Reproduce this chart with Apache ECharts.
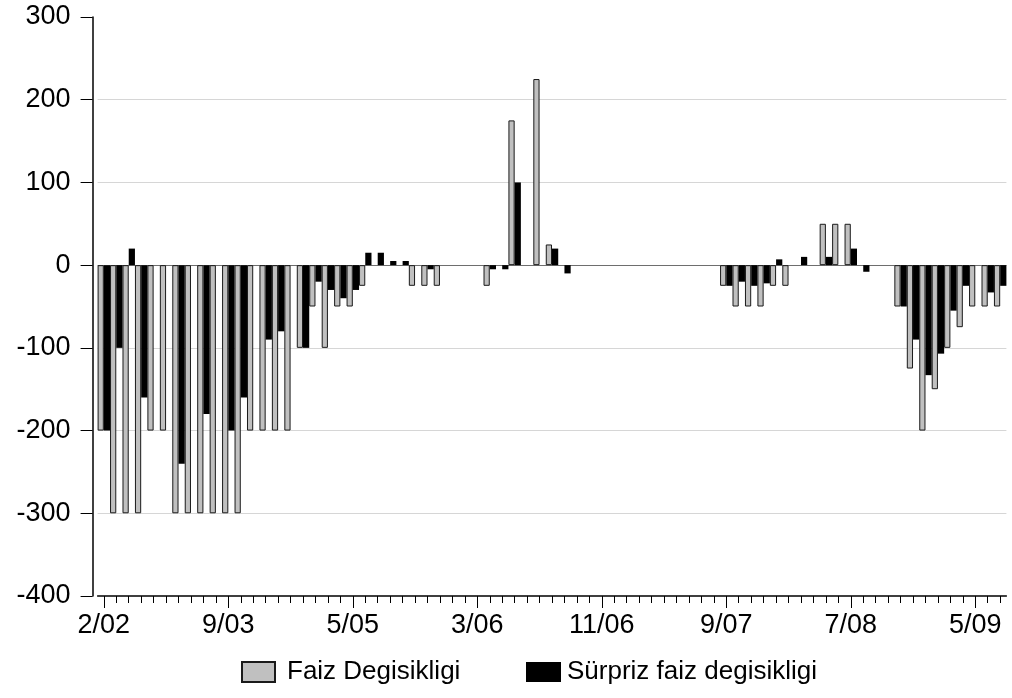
<!DOCTYPE html>
<html>
<head>
<meta charset="utf-8">
<script src="https://cdn.jsdelivr.net/npm/echarts@6/dist/echarts.min.js"></script>
<style>
html,body{margin:0;padding:0;background:#ffffff;}
#c{width:1012px;height:698px;}
</style>
</head>
<body>
<div id="c"></div>
<script>
// Observation numbers (73 observations, labelled every 10th)
const categories = Array.from({length: 73}, (_, i) => String(i + 1));
const tickLabels = ['2/02', '9/03', '5/05', '3/06', '11/06', '9/07', '7/08', '5/09'];
const yTicks = {min: -400, max: 300, interval: 100};

const faizDegisikligi = [
  -200, -300, -300, -300, -200, -200, -300, -300, -300, -300,
  -300, -300, -200, -200, -200, -200, -100, -50, -100, -50,
  -50, -25, 0, 0, 0, -25, -25, -25, 0, 0,
  0, -25, 0, 175, 0, 225, 25, 0, 0, 0,
  0, 0, 0, 0, 0, 0, 0, 0, 0, 0,
  -25, -50, -50, -50, -25, -25, 0, 0, 50, 50,
  50, 0, 0, 0, -50, -125, -200, -150, -100, -75,
  -50, -50, -50
];
const surprizFaizDegisikligi = [
  -200, -100, 20, -160, 0, 0, -240, 0, -180, 0,
  -200, -160, 0, -90, -80, 0, -100, -20, -30, -40,
  -30, 15, 15, 5, 5, 0, -5, 0, 0, 0,
  0, -5, -5, 100, 0, 0, 20, -10, 0, 0,
  0, 0, 0, 0, 0, 0, 0, 0, 0, 0,
  -25, -20, -25, -22, 7, 0, 10, 0, 10, 0,
  20, -8, 0, 0, -50, -90, -133, -107, -55, -25,
  0, -33, -25
];

const FONT = 'Liberation Sans, Arial, Helvetica, sans-serif';
const chart = echarts.init(document.getElementById('c'), null, {renderer: 'canvas'});

// zero-height bars get no outline (no visible bar)
const withZeroNoBorder = arr => arr.map(v => v === 0 ? {value: v, itemStyle: {borderWidth: 0, color: 'rgba(0,0,0,0)'}} : v);

const option = {
  animation: false,
  backgroundColor: '#ffffff',
  textStyle: {fontFamily: FONT},
  grid: {left: 97.6, right: 5.6, top: 17, bottom: 102, containLabel: false},
  legend: [
    {
      data: ['Faiz Degisikligi'],
      left: 241, top: 659, padding: 0,
      icon: 'rect', itemWidth: 33, itemHeight: 20,
      textStyle: {fontFamily: FONT, fontSize: 26, color: '#000', padding: [0, 0, 0, 7]},
      selectedMode: false
    },
    {
      data: ['Sürpriz faiz degisikligi'],
      left: 526, top: 659, padding: 0,
      icon: 'rect', itemWidth: 35, itemHeight: 20,
      textStyle: {fontFamily: FONT, fontSize: 26, color: '#000', padding: [0, 0, 0, 1]},
      selectedMode: false
    }
  ],
  xAxis: [
    {
      type: 'category',
      data: categories,
      position: 'bottom',
      axisLine: {show: true, onZero: false, lineStyle: {color: '#000', width: 1.5}},
      axisTick: {show: true, interval: 0, alignWithLabel: true, length: 7, lineStyle: {color: '#000', width: 1}},
      axisLabel: {show: false},
      splitLine: {show: false}
    },
    {
      type: 'category',
      data: categories,
      position: 'bottom',
      gridIndex: 0,
      axisLine: {show: false, onZero: false},
      axisTick: {show: true, interval: 9, alignWithLabel: true, length: 12, lineStyle: {color: '#000', width: 1}},
      axisLabel: {
        show: true, interval: 9, margin: 16,
        fontFamily: FONT, fontSize: 27, color: '#000',
        formatter: (v, i) => tickLabels[i / 10] || ''
      },
      splitLine: {show: false}
    }
  ],
  yAxis: {
    type: 'value',
    min: yTicks.min, max: yTicks.max, interval: yTicks.interval,
    offset: 5,
    axisLine: {show: true, lineStyle: {color: '#000', width: 1.5}},
    axisTick: {show: true, length: 12, lineStyle: {color: '#000', width: 1}},
    axisLabel: {margin: 22, fontFamily: FONT, fontSize: 27, color: '#000'},
    splitLine: {
      show: true,
      lineStyle: {
        width: 1,
        color: ['rgba(0,0,0,0)', '#d6d6d6', '#d6d6d6', '#d6d6d6', '#6e6e6e', '#d6d6d6', '#d6d6d6', 'rgba(0,0,0,0)']
      }
    }
  },
  series: [
    {
      name: 'Faiz Degisikligi',
      type: 'bar',
      xAxisIndex: 0,
      data: withZeroNoBorder(faizDegisikligi),
      barGap: '0%',
      barCategoryGap: '0%',
      itemStyle: {color: '#c0c0c0', borderColor: '#1a1a1a', borderWidth: 1}
    },
    {
      name: 'Sürpriz faiz degisikligi',
      type: 'bar',
      xAxisIndex: 0,
      data: withZeroNoBorder(surprizFaizDegisikligi),
      barGap: '0%',
      barCategoryGap: '0%',
      itemStyle: {color: '#000000', borderWidth: 0}
    }
  ]
};
chart.setOption(option);
</script>
</body>
</html>
